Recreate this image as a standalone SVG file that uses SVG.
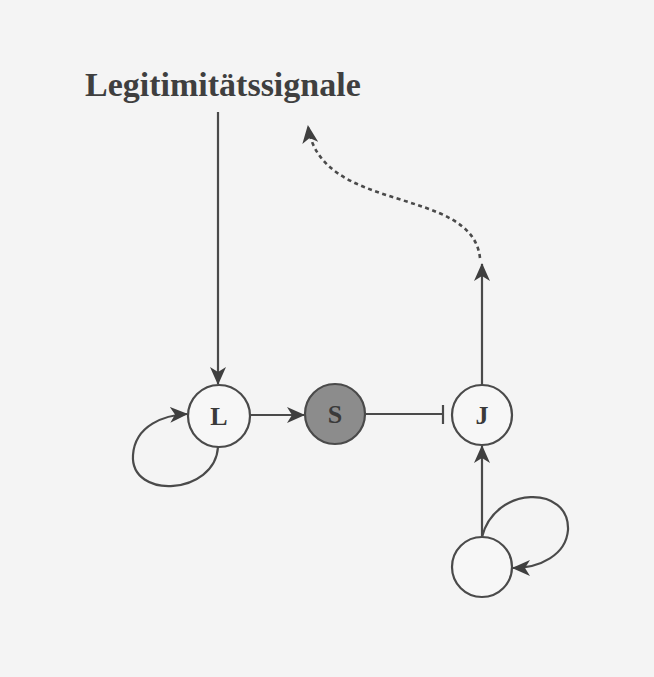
<svg xmlns="http://www.w3.org/2000/svg" width="654" height="677" viewBox="0 0 654 677">
<defs>
<style>
.edge{fill:none;stroke:#4a4a4a;stroke-width:2.2}
.dash{stroke-dasharray:4 3.5;stroke-width:2.6}
.node{stroke:#4a4a4a;stroke-width:2.2;fill:#f7f7f7}
.lbl{font-family:"Liberation Serif",serif;font-weight:bold;font-size:26px;fill:#3a3a3a;text-anchor:middle}
</style>
<marker id="arr" viewBox="0 0 18 16" refX="17" refY="8" markerWidth="18" markerHeight="16" markerUnits="userSpaceOnUse" orient="auto">
<path d="M0,0 L18,8 L0,16 L5,8 z" fill="#3f3f3f"/>
</marker>
</defs>
<rect width="654" height="677" fill="#f4f4f4"/>
<text x="85" y="96" font-family="Liberation Serif, serif" font-weight="bold" font-size="34" fill="#3f3f3f">Legitimitätssignale</text>
<g id="connectors">
<path class="edge" d="M218,112 L218,384" marker-end="url(#arr)"/>
<path class="edge" d="M250,415 L304,415" marker-end="url(#arr)"/>
<path class="edge" d="M365,414 L443,414 M443,405 L443,424"/>
<path class="edge" d="M482,385 L482,264" marker-end="url(#arr)"/>
<path class="edge dash" d="M480,258 C472,185 320,215 308,126" marker-end="url(#arr)"/>
<path class="edge" d="M218,447 C215,495 130,500 133,455 C135,425 165,415 187,414" marker-end="url(#arr)"/>
<path class="edge" d="M482,537 L482,446" marker-end="url(#arr)"/>
<path class="edge" d="M482,537 C495,485 570,485 568,530 C566,555 540,568 513,568" marker-end="url(#arr)"/>
</g>
<g id="L"><circle class="node" cx="219" cy="416" r="31"/><text class="lbl" x="219" y="425">L</text></g>
<g id="S"><circle class="node" cx="335" cy="414" r="30" style="fill:#8c8c8c"/><text class="lbl" x="335" y="423">S</text></g>
<g id="J"><circle class="node" cx="482" cy="415" r="30"/><text class="lbl" x="482" y="424">J</text></g>
<g id="N"><circle class="node" cx="482" cy="567" r="30"/></g>
</svg>
